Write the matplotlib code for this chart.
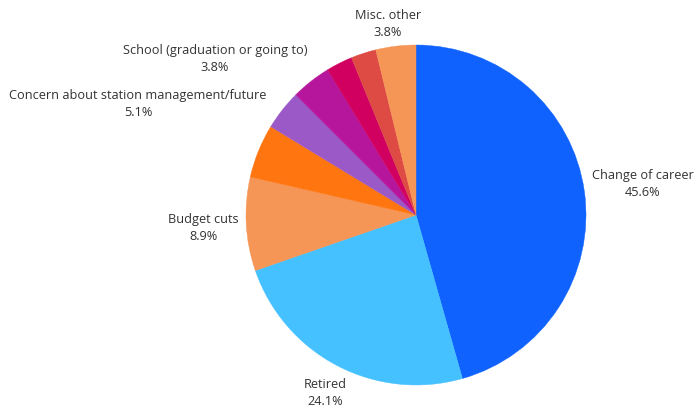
import matplotlib
matplotlib.use("Agg")
import matplotlib.pyplot as plt

# ---- data (clockwise from 12 o'clock) ----
categories = ["Change of career", "Retired", "Budget cuts",
              "Concern about station management/future",
              "School (graduation or going to)",
              "Other reason A", "Other reason B", "Other reason C",
              "Misc. other"]
values = [45.6, 24.1, 8.9, 5.1, 3.8, 3.8, 2.5, 2.4, 3.8]
shown_labels = [True, True, True, True, True, False, False, False, True]
colors = ["#0F62FE", "#45C1FF", "#F59556", "#FF7510", "#9B59C8",
          "#B5169C", "#D10060", "#DE4B45", "#F59556"]

# ---- layout (pixel positions of label centres) ----
W, H = 696, 407
center_px = (416, 215)
radius_px = 170
label_pos_px = {
    "Change of career": (643, 184),
    "Retired": (325, 393),
    "Budget cuts": (203, 228),
    "Concern about station management/future": (138, 104),
    "School (graduation or going to)": (215, 59),
    "Misc. other": (388, 24),
}

plt.rcParams['font.family'] = ['Open Sans', 'DejaVu Sans']
fig = plt.figure(figsize=(W / 100, H / 100), dpi=100)
ax = fig.add_axes([0, 0, 1, 1])

wedges, _ = ax.pie(values, colors=colors, startangle=90, counterclock=False,
                   center=(center_px[0], H - center_px[1]), radius=radius_px,
                   frame=True)
for w in wedges:
    w.set_edgecolor(w.get_facecolor())
    w.set_linewidth(0.3)
ax.set_xlim(0, W)
ax.set_ylim(0, H)
ax.set_aspect('equal')
ax.axis('off')

for cat, val, show in zip(categories, values, shown_labels):
    if not show:
        continue
    x, y = label_pos_px[cat]
    ax.text(x, H - y, f"{cat}\n{val:.1f}%", ha='center', va='center',
            fontsize=9.2, color='#333333', linespacing=1.45)

fig.savefig("out.png", dpi=100)
